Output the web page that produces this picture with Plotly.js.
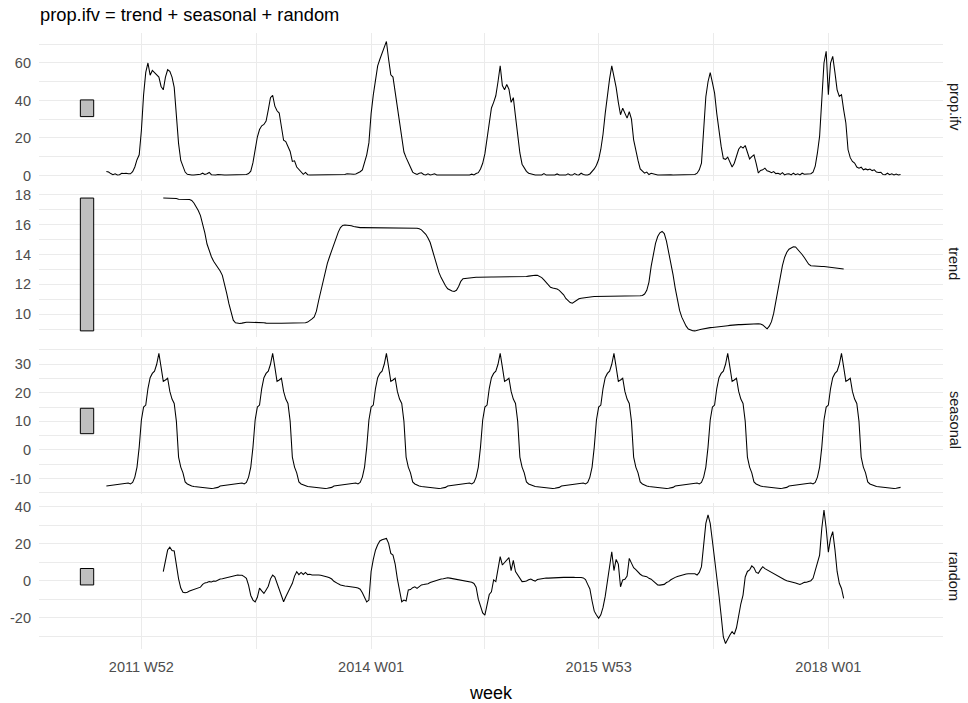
<!DOCTYPE html>
<html>
<head>
<meta charset="utf-8">
<script src="https://cdn.plot.ly/plotly-3.0.1.min.js"></script>
<style>
  html, body { margin: 0; padding: 0; background: #ffffff; }
  #chart { width: 968px; height: 703px; }
</style>
</head>
<body>
<div id="chart"></div>
<script>
// Classical decomposition of weekly influenza (prop.ifv).
// Week positions are counted from 2011 W52 (= 0).

const propStart = -16; // 2011 W36
const propIfv = [
  2.1, 1.8, 1.0, 0.4, 0.9, 0.3, 0.4, 1.2, 1.0, 1.2,
  0.9, 0.9, 2.0, 4.5, 8.4, 11.0, 24.0, 43.0, 55.0, 60.0,
  53.5, 56.0, 54.8, 53.5, 52.5, 47.5, 45.7, 52.5, 56.4, 55.5,
  52.5, 47.0, 32.0, 17.0, 8.0, 4.5, 1.8, 0.6, 0.3, 0.2,
  0.2, 0.2, 0.3, 0.6, 1.2, 0.5, 0.9, 1.6, 0.4, 0.3,
  0.2, 0.5, 0.3, 0.2, 0.2, 0.2, 0.2, 0.3, 0.2, 0.2,
  0.2, 0.3, 0.4, 0.3, 0.5, 1.0, 2.3, 6.8, 14.0, 20.5,
  24.5, 26.5, 27.2, 29.0, 35.0, 41.5, 42.8, 37.0, 34.5, 33.3,
  26.0, 18.8, 18.1, 15.5, 12.8, 7.5, 7.8, 4.5, 3.0, 1.5,
  0.6, 1.6, 0.4, 0.3, 0.3, 0.2, 0.2, 0.2, 0.3, 0.2,
  0.2, 0.2, 0.2, 0.3, 0.2, 0.2, 0.2, 0.3, 0.3, 0.5,
  0.9, 0.7, 0.6, 0.7, 0.8, 1.2, 2.0, 3.0, 6.5, 11.0,
  17.5, 33.0, 43.0, 52.0, 58.5, 62.0, 65.0, 69.0, 71.5, 62.0,
  53.7, 52.5, 44.0, 36.0, 28.0, 19.5, 12.5, 9.5, 7.0, 3.8,
  1.8, 1.0, 0.5, 1.2, 1.4, 0.5, 0.3, 0.9, 0.3, 0.5,
  0.9, 0.3, 0.3, 0.2, 0.2, 0.3, 0.2, 0.2, 0.2, 0.2,
  0.2, 0.2, 0.2, 0.2, 0.2, 0.2, 0.3, 0.7, 0.3, 1.0,
  1.5, 3.5, 6.5, 11.5, 19.0, 27.0, 36.0, 39.0, 42.5, 50.0,
  58.5, 48.0, 45.7, 48.5, 46.0, 39.0, 41.5, 31.5, 21.0, 12.0,
  6.0, 3.8, 2.2, 1.2, 0.8, 0.4, 0.3, 0.2, 0.2, 0.3,
  1.0, 0.2, 0.2, 0.2, 0.3, 0.2, 0.8, 0.2, 0.2, 0.3,
  0.2, 0.9, 0.3, 0.2, 1.0, 0.4, 0.3, 1.2, 0.5, 0.3,
  0.2, 0.8, 2.0, 3.5, 5.5, 8.5, 14.0, 22.0, 33.0, 44.0,
  51.5, 58.5, 52.9, 47.0, 39.0, 32.4, 35.9, 33.3, 30.6, 34.0,
  30.0, 19.0, 12.5, 8.0, 3.5, 2.1, 1.2, 1.8, 0.5, 1.2,
  0.8, 0.2, 0.2, 0.2, 0.3, 0.2, 0.5, 0.2, 0.3, 0.2,
  0.2, 0.3, 0.2, 0.2, 0.2, 0.3, 0.3, 0.4, 0.6, 0.5,
  1.2, 3.0, 6.6, 22.0, 42.0, 50.0, 54.9, 49.5, 43.9, 33.0,
  23.0, 15.5, 9.0, 8.6, 9.8, 6.6, 4.5, 6.5, 10.1, 14.0,
  15.5, 14.6, 16.0, 12.0, 8.8, 10.0, 11.0, 6.5, 1.3, 2.7,
  3.0, 3.9, 2.5, 2.1, 1.5, 2.1, 1.0, 1.2, 0.6, 1.5,
  0.3, 0.8, 0.9, 0.3, 1.2, 0.4, 0.9, 0.3, 1.2, 0.6,
  0.8, 1.0, 0.9, 1.8, 5.0, 12.0, 21.0, 40.4, 60.0, 66.2,
  43.1, 60.0, 63.5, 55.0, 45.7, 42.2, 43.1, 35.0, 28.0, 13.7,
  9.5, 7.5, 6.6, 4.5, 3.9, 4.4, 3.0, 3.5, 3.0, 3.4,
  2.6, 3.0, 1.8, 1.6, 1.7, 0.5, 0.4, 1.2, 0.4, 0.9,
  0.3, 0.8, 0.3, 0.5
];

const trendStart = 10;
const trend = [
  17.78, 17.78, 17.77, 17.77, 17.76, 17.75, 17.75, 17.70, 17.69, 17.69,
  17.69, 17.68, 17.68, 17.62, 17.45, 17.20, 16.95, 16.60, 16.10, 15.45,
  14.70, 14.25, 13.85, 13.55, 13.35, 13.18, 12.90, 12.60, 12.05, 11.40,
  10.70, 10.05, 9.60, 9.42, 9.38, 9.38, 9.40, 9.44, 9.46, 9.46,
  9.46, 9.47, 9.46, 9.46, 9.46, 9.45, 9.43, 9.40, 9.39, 9.39,
  9.39, 9.39, 9.39, 9.39, 9.39, 9.39, 9.39, 9.39, 9.39, 9.39,
  9.39, 9.39, 9.39, 9.40, 9.41, 9.42, 9.47, 9.56, 9.68, 9.82,
  10.20, 10.90, 11.50, 12.20, 12.90, 13.40, 13.85, 14.30, 14.75, 15.10,
  15.50, 15.80, 15.95, 15.98, 15.97, 15.95, 15.93, 15.88, 15.84, 15.81,
  15.80, 15.80, 15.80, 15.79, 15.79, 15.79, 15.79, 15.79, 15.79, 15.79,
  15.79, 15.79, 15.79, 15.79, 15.79, 15.79, 15.79, 15.79, 15.79, 15.79,
  15.79, 15.79, 15.79, 15.79, 15.78, 15.78, 15.76, 15.72, 15.65, 15.50,
  15.35, 15.10, 14.80, 14.30, 13.80, 13.25, 12.80, 12.45, 12.15, 11.90,
  11.70, 11.60, 11.55, 11.52, 11.60, 11.85, 12.20, 12.38, 12.40, 12.42,
  12.45, 12.48, 12.48, 12.48, 12.48, 12.49, 12.49, 12.49, 12.49, 12.49,
  12.49, 12.49, 12.49, 12.49, 12.49, 12.49, 12.49, 12.49, 12.49, 12.49,
  12.50, 12.50, 12.50, 12.50, 12.51, 12.51, 12.52, 12.55, 12.58, 12.60,
  12.61, 12.60, 12.55, 12.45, 12.30, 12.12, 11.95, 11.80, 11.75, 11.72,
  11.68, 11.60, 11.45, 11.30, 11.05, 10.88, 10.78, 10.73, 10.85, 10.97,
  11.03, 11.07, 11.10, 11.13, 11.15, 11.16, 11.17, 11.18, 11.18, 11.19,
  11.19, 11.19, 11.20, 11.20, 11.20, 11.20, 11.20, 11.20, 11.21, 11.21,
  11.21, 11.21, 11.21, 11.21, 11.22, 11.22, 11.22, 11.22, 11.23, 11.25,
  11.35, 11.60, 12.15, 13.20, 14.10, 14.75, 15.20, 15.45, 15.54, 15.40,
  14.90, 14.20, 13.45, 12.65, 11.75, 10.90, 10.25, 9.80, 9.45, 9.20,
  9.00, 8.92, 8.89, 8.88, 8.90, 8.95, 8.99, 9.03, 9.06, 9.08,
  9.10, 9.11, 9.12, 9.14, 9.16, 9.18, 9.20, 9.21, 9.23, 9.25,
  9.27, 9.28, 9.29, 9.30, 9.30, 9.31, 9.32, 9.32, 9.33, 9.34,
  9.34, 9.35, 9.36, 9.34, 9.28, 9.15, 9.02, 9.20, 9.50, 10.05,
  10.85, 11.60, 12.50, 13.25, 13.80, 14.15, 14.35, 14.45, 14.52, 14.50,
  14.35, 14.20, 14.00, 13.80, 13.55, 13.35, 13.25, 13.23, 13.22, 13.21,
  13.20, 13.20, 13.19, 13.17, 13.15, 13.13, 13.12, 13.10, 13.08, 13.06,
  13.05, 13.03
];

// One 52-week seasonal cycle, beginning at week -16; it repeats every year.
const seasonalStart = -16;
const seasonalCycle = [
  -12.6, -12.5, -12.4, -12.2, -12.1, -12.0, -11.9, -11.8, -11.6, -11.5,
  -11.6, -11.9, -11.4, -9.5, -6.0, 1.0, 10.5, 15.0, 15.7, 21.5,
  25.3, 26.8, 27.6, 30.0, 33.8, 29.0, 24.0, 24.5, 25.1, 20.5,
  17.8, 16.3, 10.0, -2.5, -6.0, -8.0, -11.2, -11.9, -12.3, -12.6,
  -12.8, -12.9, -13.0, -13.0, -13.1, -13.1, -13.2, -13.4, -13.5, -13.4,
  -13.2, -13.1
];
const seasonalYears = 7;

const randomStart = 10;
const random = [
  4.9, 11.2, 16.6, 18.2, 16.4, 16.1, 8.5, 1.0, -4.0, -6.3,
  -6.5, -6.3, -5.6, -5.1, -4.8, -4.5, -4.0, -3.5, -2.0, -1.2,
  -1.0, -0.5, -0.7, -0.2, -0.3, 0.5, 0.9, 1.0, 1.3, 1.7,
  2.1, 2.4, 2.9, 3.1, 3.1, 3.0, 2.9, 2.2, 1.3, -2.5,
  -8.0, -10.5, -11.5, -9.0, -4.0, -5.5, -6.9, -5.0, -3.0, 1.0,
  3.0, 2.0, -1.5, -4.0, -8.5, -11.4, -8.7, -6.3, -3.5, -1.4,
  2.5, 4.9, 3.3, 4.5, 3.4, 4.5, 3.3, 3.5, 3.1, 3.2,
  3.1, 3.1, 3.0, 2.8, 2.5, 2.0, 1.6, 0.9, -0.3, -1.2,
  -1.7, -2.3, -2.7, -2.9, -3.0, -3.1, -3.2, -3.4, -3.7, -4.0,
  -4.6, -6.5, -8.7, -11.5, -10.5, 5.0, 11.5, 16.5, 19.5, 21.5,
  22.2, 22.6, 22.9, 20.2, 14.8, 13.9, 9.0, 1.0, -6.5, -11.4,
  -10.5, -11.0, -5.0, -4.8, -3.8, -3.3, -4.2, -3.0, -2.3, -2.1,
  -2.0, -1.6, -1.0, -0.6, 0.0, 0.4, 0.6, 0.9, 1.0, 1.3,
  1.6, 1.4, 1.2, 1.0, 0.9, 0.7, 0.4, 0.1, -0.2, -0.4,
  -0.6, -0.9, -1.5, -3.5, -10.0, -13.5, -17.5, -18.6, -12.0, -7.5,
  -6.0, 0.4, -0.5, 5.8, 13.0, 8.5, 10.0, 11.5, 12.5, 5.5,
  11.0, 4.9, 3.1, 0.8, -0.5, -0.4, -0.2, 0.5, 0.9, 0.2,
  -0.2, 0.6, 0.9, 1.2, 1.3, 1.5, 1.4, 1.5, 1.6, 1.6,
  1.7, 1.6, 1.7, 1.8, 1.8, 1.9, 1.8, 1.9, 1.8, 1.9,
  1.8, 1.7, 1.5, 0.6, -2.0, -4.5, -11.0, -16.5, -18.6, -20.4,
  -18.5, -14.5, -8.5, -1.0, 8.0, 15.7, 5.5, 11.5, 9.0, -3.3,
  0.4, 0.8, 2.5, 12.1, 9.5, 7.0, 6.0, 4.5, 3.5, 2.7,
  2.4, 2.2, 1.3, 0.8, -0.2, -1.2, -2.3, -2.4, -2.3, -2.0,
  -1.0, -0.5, 0.5, 1.3, 1.8, 2.3, 2.7, 3.0, 3.3, 3.6,
  3.8, 3.9, 4.0, 3.8, 3.1, 4.5, 7.6, 19.3, 31.0, 35.6,
  31.0, 21.5, 12.5, 2.5, -8.0, -19.0, -30.5, -34.0, -31.3, -29.4,
  -27.6, -29.0, -25.5, -18.0, -12.5, -7.8, 2.0, 5.0, 5.8, 8.0,
  7.0, 4.5, 4.0, 6.0, 7.6, 6.5, 5.8, 5.2, 4.5, 3.8,
  3.1, 2.5, 1.8, 1.2, 0.5, 0.0, -0.2, -0.5, -0.9, -1.2,
  -1.6, -2.0, -1.5, -0.9, -0.8, -0.6, 0.0, 1.3, 5.5, 10.0,
  13.9, 28.4, 38.3, 28.4, 15.5, 22.9, 26.6, 17.0, 5.0, -1.4,
  -4.2, -9.6
];

const tickWeeks = [0, 105, 209, 314];
const tickLabels = ['2011 W52', '2014 W01', '2015 W53', '2018 W01'];
const minorWeeks = [-52.5, 52.5, 157, 261.5, 366];
const panelNames = ['prop.ifv', 'trend', 'seasonal', 'random'];

// y tick values for each panel (labels use a plain hyphen for negatives)
const yTicks = [
  [0, 20, 40, 60],
  [10, 12, 14, 16, 18],
  [-10, 0, 10, 20, 30],
  [-20, 0, 20, 40]
];

// ---- build the four component series ----
const seasonal = [];
for (let y = 0; y < seasonalYears; y++) seasonal.push(...seasonalCycle);

function weeksFrom(start, n) {
  return Array.from({ length: n }, (_, i) => start + i);
}

const series = [
  { x: weeksFrom(propStart, propIfv.length), y: propIfv },
  { x: weeksFrom(trendStart, trend.length), y: trend },
  { x: weeksFrom(seasonalStart, seasonal.length), y: seasonal },
  { x: weeksFrom(randomStart, random.length), y: random }
];

// ---- panel geometry ----
const domains = [[0.7590, 1.0], [0.5072, 0.7444], [0.2517, 0.4910], [0.0, 0.2366]];
const yRanges = [[-3.2, 76.0], [8.50, 18.29], [-15.4, 36.2], [-37.0, 41.95]];
const xRange = [-46.8, 366.4];

const FONT = 'Liberation Sans, Arial, Helvetica, sans-serif';
const GRID = '#EBEBEB';
const TICKCOL = '#4D4D4D';

const traces = [];
const layout = {
  width: 968,
  height: 703,
  margin: { l: 39.3, r: 25.3, t: 33.3, b: 54 },
  paper_bgcolor: '#ffffff',
  plot_bgcolor: '#ffffff',
  showlegend: false,
  font: { family: FONT, color: TICKCOL },
  title: {
    text: 'prop.ifv = trend + seasonal + random',
    x: 40 / 968, xanchor: 'left', xref: 'container',
    y: 1 - 15 / 703, yanchor: 'middle', yref: 'container',
    font: { family: FONT, size: 18.3, color: '#000000' }
  },
  shapes: [],
  annotations: []
};

// scale bars: every bar has the length of the smallest component range
const ranges = series.map(s => [Math.min(...s.y), Math.max(...s.y)]);
const barLen = Math.min(...ranges.map(r => r[1] - r[0]));
const barX = [-27.9, -21.8];

series.forEach((s, i) => {
  const k = i + 1;
  const xa = 'x' + (k > 1 ? k : '');
  const ya = 'y' + (k > 1 ? k : '');
  const isBottom = k === 4;
  const step = yTicks[i][1] - yTicks[i][0];

  traces.push({
    type: 'scatter', mode: 'lines',
    x: s.x, y: s.y,
    xaxis: xa, yaxis: ya,
    line: { color: '#000000', width: 1.05 },
    hoverinfo: 'x+y'
  });

  layout['xaxis' + (k > 1 ? k : '')] = {
    domain: [0, 1],
    anchor: ya,
    range: xRange,
    matches: k > 1 ? 'x' : undefined,
    tickmode: 'array',
    tickvals: tickWeeks,
    ticktext: tickLabels,
    showticklabels: isBottom,
    tickfont: { family: FONT, size: 14.5, color: TICKCOL },
    ticks: '',
    ticklabelstandoff: 7,
    showgrid: true, gridcolor: GRID, gridwidth: 1.1,
    minor: { tickmode: 'array', tickvals: minorWeeks, showgrid: true, gridcolor: GRID, gridwidth: 0.6 },
    zeroline: false, showline: false,
    title: isBottom ? { text: 'week', font: { family: FONT, size: 18, color: '#000000' }, standoff: 12 } : undefined
  };

  layout['yaxis' + (k > 1 ? k : '')] = {
    domain: domains[i],
    anchor: xa,
    range: yRanges[i],
    tickmode: 'array',
    tickvals: yTicks[i],
    ticktext: yTicks[i].map(v => String(v)),
    tickfont: { family: FONT, size: 14.5, color: TICKCOL },
    ticks: '',
    ticklabelstandoff: 7,
    showgrid: true, gridcolor: GRID, gridwidth: 1.1,
    minor: { tickmode: 'linear', tick0: 0, dtick: step / 2, showgrid: true, gridcolor: GRID, gridwidth: 0.6 },
    zeroline: false, showline: false
  };

  const mid = (ranges[i][0] + ranges[i][1]) / 2;
  layout.shapes.push({
    type: 'rect', xref: xa, yref: ya,
    x0: barX[0], x1: barX[1],
    y0: mid - barLen / 2, y1: mid + barLen / 2,
    fillcolor: '#BFBFBF',
    line: { color: '#000000', width: 1 },
    layer: 'above'
  });

  layout.annotations.push({
    text: panelNames[i],
    xref: 'paper', yref: 'paper',
    x: (954 - 39.3) / 903.4, xanchor: 'center',
    y: (domains[i][0] + domains[i][1]) / 2, yanchor: 'middle',
    textangle: 90,
    showarrow: false,
    font: { family: FONT, size: 14.5, color: '#1A1A1A' }
  });
});

Plotly.newPlot('chart', traces, layout, { displayModeBar: false, responsive: false });
</script>
</body>
</html>
